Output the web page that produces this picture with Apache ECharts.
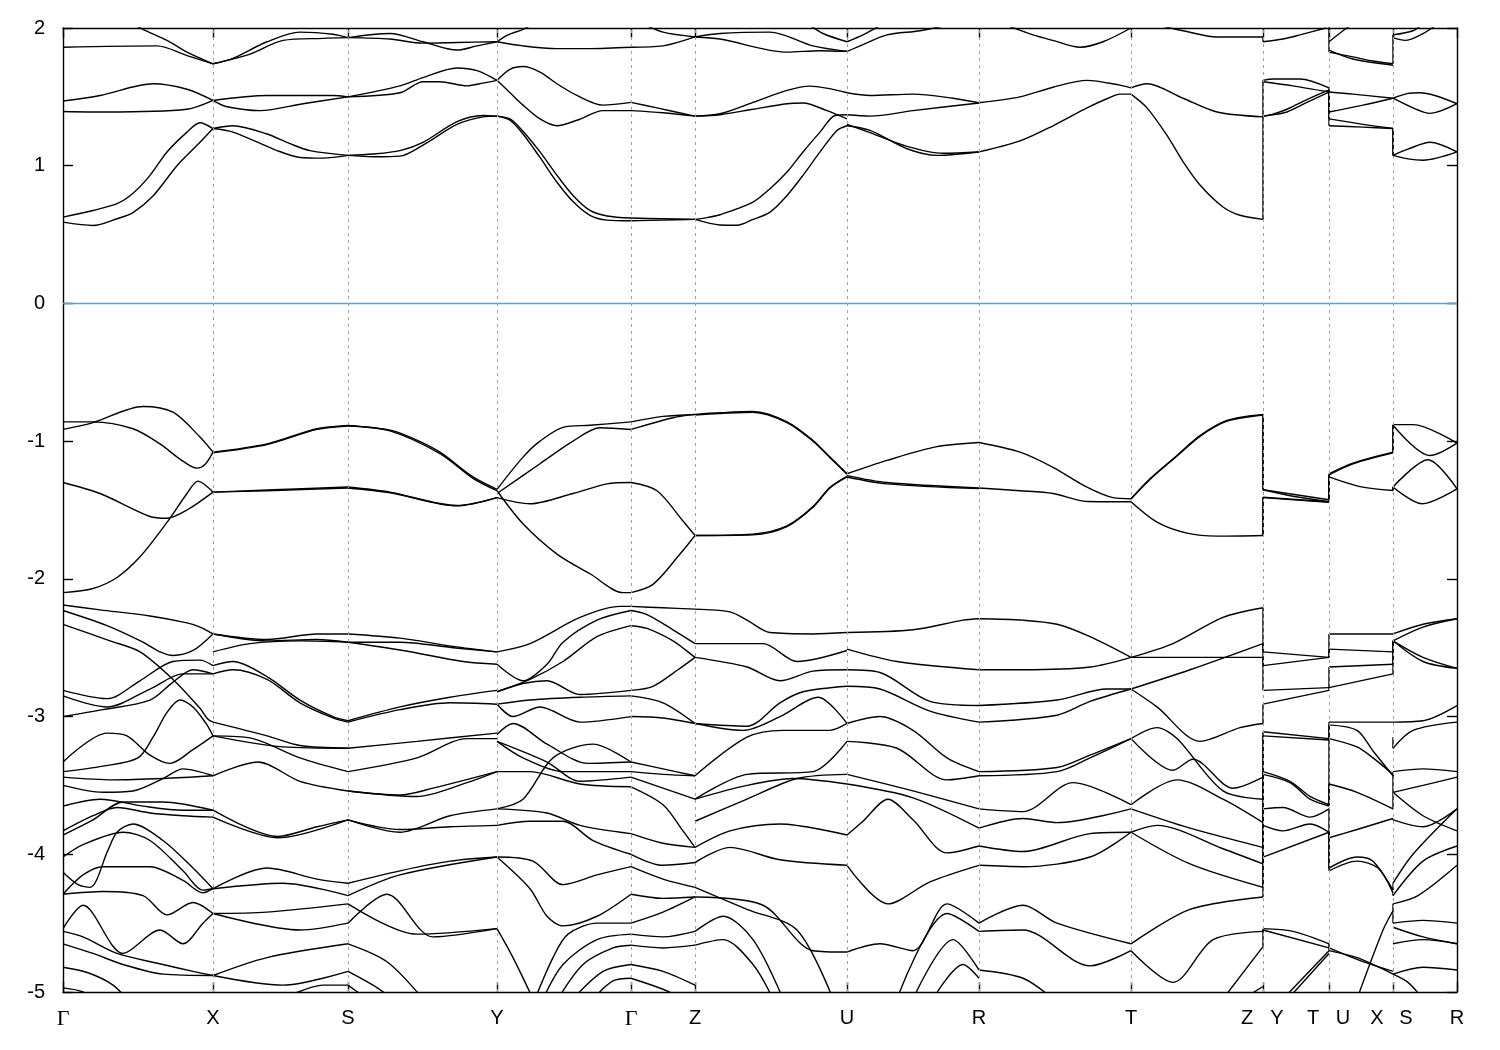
<!DOCTYPE html>
<html>
<head>
<meta charset="utf-8">
<script src="https://cdn.jsdelivr.net/npm/echarts@6/dist/echarts.min.js"></script>
<style>
html,body{margin:0;padding:0;background:#fff;}
#chart{width:1500px;height:1050px;}
</style>
</head>
<body>
<div id="chart"></div>
<script>
// High-symmetry points along the k-path (path distance units)
const kNodes = [0, 1.50, 2.85, 4.34, 5.68, 6.32, 7.84, 9.16, 10.68, 12.00, 12.66, 13.30, 13.94];
const labelK = [0, 1.50, 2.85, 4.34, 5.68, 6.32, 7.84, 9.16, 10.68, 11.84, 12.14, 12.50, 12.80, 13.14, 13.43, 13.94];
const labelText = ['Γ','X','S','Y','Γ','Z','U','R','T','Z','Y','T','U','X','S','R'];
const energyTicks = [-5, -4, -3, -2, -1, 0, 1, 2];
const fermiLevel = 0;

// Bands, segment by segment: each line is a list of [k, E(eV)]
const bands_GX = [
 [[0,0.59],[0.30,0.566],[0.54,0.615],[0.70,0.66],[0.90,0.78],[1.14,1.0],[1.37,1.17],[1.50,1.27]],
 [[0,0.627],[0.30,0.675],[0.54,0.724],[0.70,0.80],[0.87,0.93],[1.04,1.10],[1.24,1.244],[1.37,1.312],[1.50,1.27]],
 [[0,1.47],[0.37,1.51],[0.90,1.595],[1.24,1.555],[1.50,1.474]],
 [[0,1.394],[0.43,1.39],[1.24,1.41],[1.50,1.474]],
 [[0,1.86],[0.94,1.87],[1.24,1.80],[1.50,1.74]],
 [[0.65,2.05],[0.80,1.99],[1.04,1.91],[1.24,1.825],[1.50,1.74]],
 [[0,-0.86],[0.30,-0.86],[0.70,-0.91],[0.97,-1.02],[1.17,-1.13],[1.34,-1.196],[1.42,-1.17],[1.50,-1.08]],
 [[0,-0.915],[0.30,-0.865],[0.80,-0.748],[1.10,-0.79],[1.37,-0.97],[1.50,-1.08]],
 [[0,-1.30],[0.37,-1.38],[0.87,-1.547],[1.04,-1.56],[1.24,-1.50],[1.50,-1.37]],
 [[0,-2.10],[0.30,-2.07],[0.54,-1.99],[0.77,-1.84],[1.04,-1.59],[1.24,-1.38],[1.35,-1.29],[1.50,-1.37]],
 [[0,-2.19],[0.37,-2.225],[0.87,-2.27],[1.24,-2.32],[1.37,-2.35],[1.50,-2.40]],
 [[0,-2.23],[0.44,-2.34],[0.80,-2.46],[0.97,-2.53],[1.10,-2.556],[1.30,-2.52],[1.50,-2.40]],
 [[0,-2.33],[0.47,-2.45],[0.77,-2.53],[1.10,-2.73],[1.37,-2.94],[1.45,-3.02],[1.50,-3.04]],
 [[0,-2.81],[0.44,-2.87],[0.77,-2.74],[1.10,-2.60],[1.37,-2.59],[1.50,-2.63]],
 [[0,-2.85],[0.44,-2.93],[0.87,-2.80],[1.20,-2.69],[1.50,-2.69]],
 [[0,-3.00],[0.40,-2.95],[0.87,-2.88],[1.10,-2.75],[1.30,-2.66],[1.50,-2.69]],
 [[0,-3.40],[0.40,-3.36],[0.75,-3.30],[0.90,-3.15],[1.04,-2.97],[1.17,-2.88],[1.30,-2.93],[1.43,-3.05],[1.50,-3.14]],
 [[0,-3.33],[0.44,-3.12],[0.64,-3.14],[0.87,-3.28],[1.07,-3.34],[1.30,-3.24],[1.50,-3.14]],
 [[0,-3.44],[0.50,-3.46],[1.00,-3.45],[1.50,-3.43]],
 [[0,-3.50],[0.40,-3.55],[0.70,-3.54],[1.00,-3.45],[1.20,-3.38],[1.50,-3.43]],
 [[0,-3.65],[0.37,-3.60],[0.80,-3.65],[1.20,-3.68],[1.50,-3.68]],
 [[0,-3.83],[0.30,-3.72],[0.54,-3.66],[0.87,-3.70],[1.20,-3.72],[1.50,-3.73]],
 [[0,-3.86],[0.30,-3.75],[0.60,-3.62],[1.00,-3.62],[1.50,-3.68]],
 [[0,-4.02],[0.20,-3.93],[0.60,-3.84],[0.87,-3.90],[1.20,-4.12],[1.40,-4.26],[1.50,-4.25]],
 [[0,-4.13],[0.15,-4.22],[0.27,-4.24],[0.45,-3.97],[0.54,-3.84],[0.70,-3.78],[1.00,-3.90],[1.30,-4.10],[1.50,-4.25]],
 [[0,-4.29],[0.20,-4.15],[0.40,-4.09],[0.87,-4.09],[1.20,-4.19],[1.40,-4.28],[1.50,-4.25]],
 [[0,-4.29],[0.40,-4.27],[0.80,-4.30],[1.04,-4.44],[1.30,-4.35],[1.50,-4.43]],
 [[0,-4.54],[0.20,-4.37],[0.60,-4.72],[0.97,-4.55],[1.20,-4.65],[1.40,-4.50],[1.50,-4.43]],
 [[0,-4.56],[0.20,-4.60],[0.54,-4.72],[1.00,-4.80],[1.30,-4.85],[1.50,-4.88]],
 [[0,-4.65],[0.30,-4.72],[0.60,-4.80],[1.00,-4.87],[1.50,-4.88]],
 [[0,-4.82],[0.25,-4.86],[0.50,-4.95],[0.70,-5.1]],
 [[0,-4.97],[0.20,-5.0],[0.40,-5.1]]
];

const bands_XS = [
 [[1.50,1.27],[1.70,1.29],[2.04,1.23],[2.27,1.16],[2.47,1.11],[2.85,1.075]],
 [[1.50,1.27],[1.70,1.244],[2.14,1.11],[2.37,1.06],[2.60,1.055],[2.85,1.075]],
 [[1.50,1.474],[2.04,1.51],[2.70,1.51],[2.85,1.50]],
 [[1.50,1.474],[1.63,1.43],[1.97,1.40],[2.40,1.45],[2.85,1.50]],
 [[1.50,1.74],[1.70,1.78],[2.04,1.90],[2.37,1.97],[2.70,1.955],[2.85,1.93]],
 [[1.50,1.74],[1.87,1.81],[2.20,1.91],[2.60,1.925],[2.85,1.93]],
 [[1.50,-1.08],[2.04,-1.02],[2.54,-0.91],[2.85,-0.886]],
 [[1.50,-1.085],[2.04,-1.025],[2.54,-0.915],[2.85,-0.89]],
 [[1.50,-1.37],[2.04,-1.355],[2.85,-1.333]],
 [[1.50,-1.37],[2.04,-1.36],[2.85,-1.34]],
 [[1.50,-2.40],[2.04,-2.44],[2.54,-2.40],[2.85,-2.40]],
 [[1.50,-2.40],[2.04,-2.45],[2.54,-2.44],[2.85,-2.46]],
 [[1.50,-2.53],[1.87,-2.47],[2.37,-2.45],[2.85,-2.46]],
 [[1.50,-2.63],[1.70,-2.60],[2.04,-2.71],[2.37,-2.88],[2.70,-3.00],[2.85,-3.03]],
 [[1.50,-2.69],[1.70,-2.66],[2.04,-2.73],[2.37,-2.90],[2.70,-3.01],[2.85,-3.04]],
 [[1.50,-3.04],[2.04,-3.14],[2.37,-3.21],[2.85,-3.23]],
 [[1.50,-3.14],[1.90,-3.16],[2.37,-3.30],[2.85,-3.40]],
 [[1.50,-3.14],[2.20,-3.22],[2.85,-3.23]],
 [[1.50,-3.43],[1.95,-3.33],[2.37,-3.47],[2.85,-3.54]],
 [[1.50,-3.68],[2.15,-3.87],[2.54,-3.80],[2.85,-3.75]],
 [[1.50,-3.73],[2.15,-3.88],[2.85,-3.75]],
 [[1.50,-4.25],[2.04,-4.10],[2.54,-4.18],[2.85,-4.21]],
 [[1.50,-4.25],[2.20,-4.21],[2.85,-4.30]],
 [[1.50,-4.43],[2.04,-4.42],[2.85,-4.36]],
 [[1.50,-4.43],[2.37,-4.55],[2.85,-4.50]],
 [[1.50,-4.88],[2.04,-4.75],[2.85,-4.65]],
 [[1.50,-4.88],[2.20,-4.95],[2.85,-4.85]],
 [[2.20,-5.05],[2.60,-4.95],[2.85,-4.95]]
];

const bands_SY = [
 [[2.85,1.075],[3.10,1.085],[3.37,1.11],[3.60,1.17],[3.94,1.32],[4.20,1.365],[4.34,1.36]],
 [[2.85,1.075],[3.10,1.065],[3.37,1.07],[3.60,1.15],[3.94,1.30],[4.20,1.355],[4.34,1.36]],
 [[2.85,1.50],[3.37,1.58],[3.60,1.64],[3.94,1.71],[4.14,1.69],[4.34,1.62]],
 [[2.85,1.50],[3.37,1.53],[3.60,1.61],[3.77,1.61],[4.04,1.58],[4.20,1.60],[4.34,1.62]],
 [[2.85,1.93],[3.27,1.96],[3.60,1.90],[3.94,1.84],[4.14,1.87],[4.34,1.90]],
 [[2.85,1.93],[3.27,1.92],[3.60,1.89],[3.94,1.895],[4.34,1.90]],
 [[2.85,-0.886],[3.27,-0.92],[3.50,-0.98],[3.77,-1.08],[4.10,-1.26],[4.34,-1.35]],
 [[2.85,-0.89],[3.27,-0.925],[3.77,-1.09],[4.10,-1.27],[4.34,-1.36]],
 [[2.85,-1.333],[3.27,-1.37],[3.94,-1.467],[4.34,-1.41]],
 [[2.85,-1.34],[3.27,-1.375],[3.94,-1.47],[4.34,-1.41]],
 [[2.85,-2.40],[3.37,-2.43],[3.90,-2.49],[4.34,-2.53]],
 [[2.85,-2.46],[3.37,-2.46],[3.90,-2.50],[4.34,-2.53]],
 [[2.85,-2.46],[3.40,-2.52],[4.00,-2.60],[4.34,-2.62]],
 [[2.85,-3.03],[3.37,-2.93],[3.87,-2.86],[4.34,-2.81]],
 [[2.85,-3.04],[3.37,-2.95],[3.87,-2.90],[4.34,-2.91]],
 [[2.85,-3.23],[3.54,-3.18],[4.34,-3.12]],
 [[2.85,-3.40],[3.54,-3.30],[4.04,-3.16],[4.34,-3.16]],
 [[2.85,-3.54],[3.37,-3.57],[3.70,-3.52],[4.34,-3.40]],
 [[2.85,-3.54],[3.54,-3.58],[4.04,-3.48],[4.34,-3.40]],
 [[2.85,-3.75],[3.37,-3.84],[3.87,-3.72],[4.34,-3.67]],
 [[2.85,-3.75],[3.37,-3.82],[3.87,-3.80],[4.34,-3.79]],
 [[2.85,-4.21],[3.37,-4.12],[3.87,-4.05],[4.34,-4.02]],
 [[2.85,-4.30],[3.37,-4.15],[4.34,-4.02]],
 [[2.85,-4.36],[3.54,-4.58],[4.34,-4.54]],
 [[2.85,-4.50],[3.24,-4.29],[3.70,-4.60],[4.34,-4.54]],
 [[2.85,-4.65],[3.24,-4.78],[3.60,-5.05]],
 [[2.85,-4.85],[3.10,-4.95],[3.30,-5.05]],
 [[2.85,-4.95],[3.04,-5.05]]
];

const bands_YG = [
 [[4.34,1.36],[4.47,1.34],[4.60,1.25],[4.77,1.10],[4.94,0.93],[5.10,0.784],[5.27,0.675],[5.44,0.635],[5.68,0.62]],
 [[4.34,1.36],[4.47,1.33],[4.60,1.23],[4.77,1.06],[4.94,0.88],[5.10,0.74],[5.27,0.64],[5.44,0.605],[5.68,0.60]],
 [[4.34,1.62],[4.47,1.70],[4.60,1.72],[4.77,1.68],[4.94,1.595],[5.14,1.51],[5.40,1.44],[5.68,1.46]],
 [[4.34,1.62],[4.47,1.53],[4.60,1.44],[4.77,1.34],[4.94,1.29],[5.14,1.33],[5.40,1.40],[5.68,1.40]],
 [[4.34,1.90],[4.45,1.95],[4.60,1.99],[4.75,2.05]],
 [[4.34,1.90],[4.60,1.87],[4.94,1.85],[5.27,1.85],[5.68,1.86]],
 [[4.34,-1.35],[4.60,-1.116],[4.77,-1.0],[5.00,-0.90],[5.27,-0.885],[5.68,-0.86]],
 [[4.34,-1.38],[4.77,-1.164],[5.10,-1.0],[5.37,-0.903],[5.68,-0.915]],
 [[4.34,-1.41],[4.67,-1.455],[5.10,-1.38],[5.44,-1.31],[5.68,-1.30]],
 [[4.34,-1.36],[4.60,-1.60],[4.94,-1.82],[5.27,-1.963],[5.60,-2.10],[5.68,-2.10]],
 [[4.34,-2.53],[4.67,-2.47],[5.17,-2.28],[5.57,-2.20],[5.68,-2.20]],
 [[4.34,-2.62],[4.60,-2.74],[4.84,-2.62],[5.00,-2.46],[5.34,-2.30],[5.68,-2.23]],
 [[4.34,-2.82],[4.67,-2.73],[5.00,-2.60],[5.34,-2.42],[5.68,-2.34]],
 [[4.34,-2.91],[4.50,-3.00],[4.77,-2.93],[5.17,-3.04],[5.68,-3.00]],
 [[4.34,-2.82],[4.60,-2.76],[4.84,-2.74],[5.17,-2.84],[5.68,-2.81]],
 [[4.34,-2.91],[4.67,-2.88],[5.17,-2.86],[5.68,-2.85]],
 [[4.34,-3.13],[4.50,-3.05],[4.84,-3.20],[5.25,-3.34],[5.68,-3.33]],
 [[4.34,-3.18],[4.60,-3.30],[5.00,-3.40],[5.68,-3.40]],
 [[4.34,-3.18],[4.84,-3.33],[5.17,-3.47],[5.68,-3.44]],
 [[4.34,-3.40],[4.67,-3.40],[5.17,-3.49],[5.68,-3.51]],
 [[4.34,-3.67],[4.60,-3.60],[4.90,-3.30],[5.30,-3.20],[5.68,-3.33]],
 [[4.34,-3.67],[4.84,-3.70],[5.17,-3.79],[5.68,-3.85]],
 [[4.34,-3.79],[4.67,-3.76],[5.00,-3.76],[5.30,-3.90],[5.68,-4.00]],
 [[4.34,-4.02],[4.70,-4.05],[5.00,-4.22],[5.34,-4.15],[5.68,-4.09]],
 [[4.34,-4.02],[4.67,-4.25],[4.84,-4.45],[5.00,-4.52],[5.34,-4.45],[5.68,-4.29]],
 [[4.34,-4.54],[4.50,-4.75],[4.70,-5.05]],
 [[4.72,-5.05],[4.90,-4.75],[5.05,-4.58],[5.34,-4.50],[5.68,-4.50]],
 [[4.80,-5.05],[5.00,-4.80],[5.34,-4.62],[5.68,-4.58]],
 [[4.95,-5.05],[5.20,-4.80],[5.50,-4.68],[5.68,-4.66]],
 [[5.10,-5.05],[5.40,-4.85],[5.68,-4.80]],
 [[5.30,-5.05],[5.50,-4.92],[5.68,-4.90]]
];

const bands_GZ = [
 [[5.68,0.62],[6.00,0.615],[6.32,0.61]],
 [[5.68,0.60],[6.00,0.605],[6.32,0.61]],
 [[5.68,1.46],[5.94,1.42],[6.32,1.36]],
 [[5.68,1.40],[6.00,1.385],[6.32,1.36]],
 [[5.68,1.86],[6.00,1.87],[6.32,1.935]],
 [[5.80,2.03],[6.00,1.97],[6.32,1.935]],
 [[5.68,-0.86],[6.00,-0.82],[6.32,-0.806]],
 [[5.68,-0.915],[6.10,-0.83],[6.32,-0.806]],
 [[5.68,-1.30],[5.94,-1.36],[6.20,-1.58],[6.32,-1.685]],
 [[5.68,-2.10],[5.90,-2.04],[6.17,-1.82],[6.32,-1.685]],
 [[5.68,-2.20],[6.00,-2.21],[6.32,-2.22]],
 [[5.68,-2.23],[5.84,-2.26],[6.10,-2.37],[6.32,-2.47]],
 [[5.68,-2.34],[5.84,-2.36],[6.10,-2.45],[6.25,-2.53],[6.32,-2.57]],
 [[5.68,-2.81],[5.90,-2.78],[6.15,-2.66],[6.32,-2.57]],
 [[5.68,-3.00],[6.00,-3.01],[6.32,-3.05]],
 [[5.68,-2.85],[6.00,-2.90],[6.32,-3.05]],
 [[5.68,-3.33],[6.00,-3.38],[6.32,-3.43]],
 [[5.68,-3.40],[6.00,-3.42],[6.32,-3.43]],
 [[5.68,-3.44],[6.00,-3.52],[6.32,-3.60]],
 [[5.68,-3.51],[6.00,-3.64],[6.20,-3.83],[6.32,-3.95]],
 [[5.68,-3.85],[6.00,-3.92],[6.32,-3.95]],
 [[5.68,-4.00],[6.00,-4.08],[6.32,-4.06]],
 [[5.68,-4.09],[6.00,-4.18],[6.32,-4.24]],
 [[5.68,-4.29],[6.00,-4.32],[6.32,-4.31]],
 [[5.68,-4.50],[6.00,-4.42],[6.32,-4.31]],
 [[5.68,-4.58],[6.00,-4.60],[6.32,-4.56]],
 [[5.68,-4.66],[6.00,-4.68],[6.32,-4.66]],
 [[5.68,-4.80],[6.00,-4.85],[6.32,-4.95]],
 [[5.68,-4.90],[6.00,-4.98],[6.20,-5.05]]
];

const bands_ZU = [
 [[6.32,0.61],[6.57,0.57],[6.74,0.568],[6.90,0.61],[7.07,0.663],[7.24,0.784],[7.40,0.93],[7.57,1.10],[7.74,1.256],[7.84,1.29]],
 [[6.32,0.61],[6.45,0.625],[6.57,0.644],[6.90,0.736],[7.07,0.833],[7.24,0.954],[7.40,1.10],[7.57,1.244],[7.72,1.365],[7.84,1.37]],
 [[6.32,1.36],[6.57,1.377],[6.90,1.46],[7.24,1.547],[7.47,1.578],[7.84,1.53]],
 [[6.32,1.36],[6.57,1.37],[6.90,1.41],[7.24,1.45],[7.40,1.455],[7.64,1.40],[7.84,1.34]],
 [[6.32,1.935],[6.57,1.96],[7.07,1.97],[7.50,1.87],[7.84,1.83]],
 [[6.32,1.935],[6.57,1.92],[7.24,1.825],[7.57,1.835],[7.84,1.83]],
 [[7.45,2.03],[7.60,1.96],[7.84,1.90]],
 [[6.32,-0.806],[6.57,-0.794],[6.90,-0.785],[7.24,-0.86],[7.50,-0.995],[7.67,-1.116],[7.84,-1.237]],
 [[6.32,-0.81],[6.57,-0.80],[6.90,-0.79],[7.24,-0.865],[7.50,-1.0],[7.67,-1.12],[7.84,-1.24]],
 [[6.32,-1.685],[6.90,-1.68],[7.24,-1.62],[7.50,-1.48],[7.67,-1.34],[7.84,-1.26]],
 [[6.32,-1.685],[6.90,-1.675],[7.24,-1.615],[7.50,-1.475],[7.67,-1.335],[7.84,-1.255]],
 [[6.32,-2.22],[6.67,-2.24],[6.84,-2.30],[7.07,-2.39],[7.50,-2.40],[7.84,-2.39]],
 [[6.32,-2.47],[7.00,-2.47],[7.34,-2.60],[7.84,-2.52]],
 [[6.32,-2.57],[6.84,-2.64],[7.17,-2.74],[7.50,-2.67],[7.84,-2.66]],
 [[6.32,-3.05],[6.84,-3.07],[7.17,-2.90],[7.40,-2.82],[7.84,-2.78]],
 [[6.32,-3.05],[6.80,-3.10],[7.17,-3.00],[7.55,-2.86],[7.84,-3.05]],
 [[6.32,-3.43],[6.84,-3.15],[7.20,-3.10],[7.67,-3.10],[7.84,-3.05]],
 [[6.32,-3.60],[6.84,-3.42],[7.50,-3.40],[7.84,-3.18]],
 [[6.32,-3.60],[6.84,-3.50],[7.30,-3.45],[7.84,-3.49]],
 [[6.32,-3.76],[6.84,-3.60],[7.34,-3.45],[7.84,-3.42]],
 [[6.32,-3.95],[6.67,-3.83],[7.17,-3.78],[7.84,-3.86]],
 [[6.32,-4.06],[6.67,-3.95],[7.17,-4.04],[7.84,-4.08]],
 [[6.32,-4.31],[7.00,-4.37],[7.50,-4.70],[7.84,-4.71]],
 [[6.32,-4.24],[6.84,-4.40],[7.34,-4.55],[7.70,-5.05]],
 [[6.32,-4.56],[6.60,-4.45],[6.90,-4.62],[7.20,-5.05]],
 [[6.32,-4.66],[6.60,-4.62],[6.90,-4.80],[7.10,-5.05]]
];

const bands_UR = [
 [[7.84,1.29],[8.07,1.256],[8.44,1.123],[8.74,1.075],[9.16,1.10]],
 [[7.84,1.30],[8.07,1.24],[8.44,1.14],[8.80,1.09],[9.16,1.10]],
 [[7.84,1.37],[8.07,1.36],[8.50,1.40],[9.16,1.455]],
 [[7.84,1.53],[8.07,1.51],[8.50,1.52],[8.90,1.49],[9.16,1.457]],
 [[7.84,1.83],[8.00,1.88],[8.24,1.95],[8.57,1.98],[8.90,2.03]],
 [[7.84,1.90],[8.00,1.95],[8.20,2.03]],
 [[7.84,-1.237],[8.24,-1.14],[8.74,-1.04],[9.16,-1.01]],
 [[7.84,-1.25],[8.24,-1.30],[9.16,-1.34]],
 [[7.84,-1.26],[8.24,-1.31],[9.16,-1.345]],
 [[7.84,-2.39],[8.50,-2.37],[9.00,-2.30],[9.16,-2.29]],
 [[7.84,-2.51],[8.34,-2.60],[9.16,-2.66]],
 [[7.84,-2.66],[8.17,-2.68],[8.67,-2.89],[9.16,-2.92]],
 [[7.84,-2.78],[8.17,-2.80],[8.67,-2.96],[9.16,-3.04]],
 [[7.84,-3.05],[8.17,-3.00],[8.50,-3.10],[8.84,-3.30],[9.16,-3.40]],
 [[7.84,-3.18],[8.34,-3.23],[8.84,-3.46],[9.16,-3.43]],
 [[7.84,-3.42],[8.50,-3.54],[9.16,-3.67]],
 [[7.84,-3.49],[8.50,-3.59],[9.16,-3.81]],
 [[7.84,-3.86],[8.00,-3.76],[8.25,-3.60],[8.50,-3.75],[8.84,-3.99],[9.16,-3.94]],
 [[7.84,-4.08],[8.25,-4.36],[8.67,-4.20],[9.16,-4.08]],
 [[7.84,-4.71],[8.17,-4.65],[8.50,-4.70],[8.84,-4.36],[9.16,-4.50]],
 [[8.34,-5.05],[8.84,-4.43],[9.16,-4.56]],
 [[8.50,-5.05],[8.90,-4.62],[9.16,-4.84]],
 [[8.70,-5.05],[9.00,-4.80],[9.16,-4.90]]
];

const bands_RT = [
 [[9.16,1.10],[9.57,1.18],[9.90,1.29],[10.24,1.42],[10.45,1.49],[10.57,1.52],[10.68,1.52]],
 [[9.16,1.457],[9.57,1.50],[9.90,1.57],[10.24,1.62],[10.57,1.585],[10.68,1.565]],
 [[9.40,2.03],[9.70,1.95],[9.90,1.91],[10.17,1.86],[10.40,1.90],[10.68,2.0]],
 [[9.16,-1.01],[9.57,-1.08],[9.90,-1.19],[10.24,-1.334],[10.50,-1.41],[10.68,-1.418]],
 [[9.16,-1.34],[9.57,-1.36],[9.90,-1.38],[10.24,-1.438],[10.68,-1.44]],
 [[9.16,-2.29],[9.60,-2.30],[9.94,-2.33],[10.27,-2.42],[10.68,-2.57]],
 [[9.16,-2.66],[9.60,-2.66],[10.27,-2.64],[10.68,-2.57]],
 [[9.16,-2.92],[9.94,-2.88],[10.44,-2.80],[10.68,-2.80]],
 [[9.16,-3.04],[9.94,-2.99],[10.27,-2.89],[10.68,-2.80]],
 [[9.16,-3.40],[9.94,-3.37],[10.27,-3.28],[10.68,-3.16]],
 [[9.16,-3.43],[9.94,-3.40],[10.27,-3.30],[10.68,-3.16]],
 [[9.16,-3.67],[9.60,-3.69],[10.10,-3.48],[10.68,-3.64]],
 [[9.16,-3.81],[9.60,-3.74],[9.94,-3.77],[10.68,-3.67]],
 [[9.16,-3.94],[9.60,-3.98],[10.27,-3.85],[10.68,-3.84]],
 [[9.16,-4.08],[9.60,-4.09],[10.27,-4.02],[10.68,-3.84]],
 [[9.16,-4.50],[9.60,-4.37],[9.94,-4.50],[10.68,-4.65]],
 [[9.16,-4.56],[9.60,-4.55],[10.27,-4.81],[10.68,-4.70]],
 [[9.16,-4.84],[9.60,-4.90],[9.90,-5.05]]
];

const bands_TZ = [
 [[10.68,1.52],[10.84,1.42],[11.04,1.22],[11.20,1.03],[11.37,0.86],[11.60,0.70],[11.77,0.64],[12.00,0.61]],
 [[10.68,1.565],[10.84,1.595],[11.20,1.49],[11.54,1.39],[12.00,1.355]],
 [[10.90,2.03],[11.20,1.98],[11.54,1.935],[12.00,1.935]],
 [[10.68,-1.418],[10.87,-1.273],[11.14,-1.104],[11.37,-0.96],[11.64,-0.85],[12.00,-0.806]],
 [[10.68,-1.42],[10.87,-1.278],[11.14,-1.108],[11.37,-0.965],[11.64,-0.855],[12.00,-0.81]],
 [[10.68,-1.44],[10.94,-1.588],[11.24,-1.668],[11.54,-1.69],[12.00,-1.685]],
 [[10.68,-2.57],[11.10,-2.47],[11.60,-2.28],[12.00,-2.21]],
 [[10.68,-2.57],[12.00,-2.57]],
 [[10.68,-2.80],[11.27,-2.66],[12.00,-2.47]],
 [[10.68,-2.80],[10.94,-2.93],[11.37,-3.18],[11.77,-3.08],[12.00,-3.05]],
 [[10.68,-3.16],[10.94,-3.08],[11.14,-3.16],[11.60,-3.54],[12.00,-3.60]],
 [[10.68,-3.16],[11.10,-3.39],[11.30,-3.31],[11.70,-3.52],[12.00,-3.44]],
 [[10.68,-3.64],[11.14,-3.46],[11.60,-3.60],[12.00,-3.77]],
 [[10.68,-3.67],[11.27,-3.81],[12.00,-3.95]],
 [[10.68,-3.84],[10.94,-3.79],[11.60,-3.96],[12.00,-4.07]],
 [[10.68,-3.84],[11.27,-4.07],[12.00,-4.24]],
 [[10.68,-4.65],[11.27,-4.40],[12.00,-4.31]],
 [[10.68,-4.70],[11.10,-4.93],[11.50,-4.62],[12.00,-4.56]],
 [[11.60,-5.05],[12.00,-4.67]],
 [[11.80,-5.05],[12.00,-4.96]]
];

const bands_YT = [
 [[12.00,0.61],[12.00,1.36],[12.10,1.37],[12.24,1.39],[12.44,1.46],[12.66,1.535]],
 [[12.00,1.355],[12.00,1.36],[12.10,1.375],[12.24,1.41],[12.44,1.48],[12.66,1.55]],
 [[12.00,1.355],[12.00,1.62],[12.10,1.63],[12.37,1.63],[12.66,1.565]],
 [[12.00,1.61],[12.30,1.58],[12.66,1.535]],
 [[12.00,1.935],[12.00,1.90],[12.20,1.92],[12.37,1.95],[12.63,2.0]],
 [[12.00,-0.806],[12.00,-1.353],[12.66,-1.426]],
 [[12.00,-0.806],[12.00,-1.353],[12.30,-1.40],[12.66,-1.44]],
 [[12.00,-1.685],[12.00,-1.407],[12.66,-1.44]],
 [[12.00,-1.685],[12.00,-1.41],[12.66,-1.445]],
 [[12.00,-2.21],[12.00,-2.53],[12.66,-2.57]],
 [[12.00,-2.47],[12.00,-2.63],[12.66,-2.57]],
 [[12.00,-2.57],[12.00,-2.81],[12.66,-2.79]],
 [[12.00,-3.05],[12.00,-2.91],[12.66,-2.81]],
 [[12.00,-3.44],[12.00,-3.11],[12.66,-3.16]],
 [[12.00,-3.60],[12.00,-3.14],[12.66,-3.17]],
 [[12.00,-3.77],[12.00,-3.40],[12.27,-3.47],[12.47,-3.58],[12.66,-3.64]],
 [[12.00,-3.95],[12.00,-3.42],[12.27,-3.48],[12.47,-3.60],[12.66,-3.65]],
 [[12.00,-4.07],[12.00,-3.67],[12.20,-3.66],[12.47,-3.73],[12.66,-3.67]],
 [[12.00,-4.24],[12.00,-3.79],[12.20,-3.83],[12.47,-3.78],[12.66,-3.84]],
 [[12.00,-4.31],[12.00,-4.02],[12.66,-3.84]],
 [[12.00,-4.56],[12.00,-4.54],[12.30,-4.56],[12.66,-4.65]],
 [[12.00,-4.67],[12.00,-4.55],[12.66,-4.68]],
 [[12.20,-5.05],[12.66,-4.70]],
 [[12.25,-5.05],[12.66,-4.72]]
];

const bands_UX = [
 [[12.66,1.535],[12.90,1.52],[13.30,1.49]],
 [[12.66,1.55],[12.66,1.39],[13.00,1.44],[13.30,1.49]],
 [[12.66,1.565],[12.66,1.34],[13.00,1.30],[13.30,1.27]],
 [[12.66,1.535],[12.66,1.29],[13.00,1.28],[13.30,1.27]],
 [[12.66,2.03],[12.66,1.90],[12.80,1.98],[12.90,2.03]],
 [[12.66,1.90],[12.66,1.825],[12.90,1.79],[13.10,1.76],[13.30,1.74]],
 [[12.66,1.84],[12.90,1.775],[13.30,1.73]],
 [[12.66,-1.43],[12.66,-1.237],[12.90,-1.16],[13.30,-1.08]],
 [[12.66,-1.44],[12.66,-1.245],[12.90,-1.165],[13.30,-1.085]],
 [[12.66,-1.44],[12.66,-1.26],[12.97,-1.33],[13.30,-1.358]],
 [[12.66,-2.57],[12.66,-2.40],[13.30,-2.40]],
 [[12.66,-2.57],[12.66,-2.51],[13.30,-2.53]],
 [[12.66,-2.79],[12.66,-2.64],[13.30,-2.62]],
 [[12.66,-2.81],[12.66,-2.79],[13.30,-2.69]],
 [[12.66,-3.16],[12.66,-3.04],[13.30,-3.04]],
 [[12.66,-3.17],[12.66,-3.06],[12.94,-3.10],[13.10,-3.25],[13.30,-3.43]],
 [[12.66,-3.64],[12.66,-3.16],[12.94,-3.22],[13.10,-3.30],[13.30,-3.42]],
 [[12.66,-3.65],[12.66,-3.49],[12.94,-3.55],[13.30,-3.67]],
 [[12.66,-3.67],[12.66,-3.88],[12.94,-3.82],[13.30,-3.74]],
 [[12.66,-3.84],[12.66,-4.10],[12.94,-4.02],[13.10,-4.05],[13.30,-4.26]],
 [[12.66,-3.84],[12.66,-4.12],[12.94,-4.05],[13.15,-4.10],[13.30,-4.28]],
 [[12.66,-4.65],[12.66,-4.70],[12.94,-4.75],[13.10,-4.80],[13.30,-4.87]],
 [[12.66,-4.68],[13.00,-4.78],[13.30,-4.85]],
 [[12.94,-5.05],[13.20,-4.55],[13.30,-4.41]]
];

const bands_SR = [
 [[13.30,1.27],[13.30,1.075],[13.45,1.12],[13.67,1.17],[13.94,1.10]],
 [[13.30,1.27],[13.30,1.075],[13.45,1.05],[13.60,1.04],[13.94,1.10]],
 [[13.30,1.49],[13.45,1.525],[13.57,1.53],[13.94,1.45]],
 [[13.30,1.49],[13.50,1.42],[13.67,1.38],[13.94,1.45]],
 [[13.30,1.74],[13.30,1.95],[13.50,1.98],[13.60,2.03]],
 [[13.30,1.93],[13.42,1.91],[13.60,1.96],[13.75,2.03]],
 [[13.30,-1.08],[13.30,-0.88],[13.50,-0.88],[13.94,-1.014]],
 [[13.30,-1.085],[13.30,-0.885],[13.67,-1.104],[13.94,-1.014]],
 [[13.30,-1.358],[13.30,-1.333],[13.65,-1.135],[13.94,-1.346]],
 [[13.30,-1.358],[13.30,-1.333],[13.59,-1.455],[13.94,-1.346]],
 [[13.30,-2.40],[13.60,-2.33],[13.94,-2.29]],
 [[13.30,-2.53],[13.30,-2.45],[13.60,-2.35],[13.94,-2.29]],
 [[13.30,-2.62],[13.30,-2.45],[13.60,-2.57],[13.94,-2.65]],
 [[13.30,-2.69],[13.30,-2.45],[13.60,-2.60],[13.94,-2.65]],
 [[13.30,-3.04],[13.60,-3.03],[13.94,-2.92]],
 [[13.30,-3.15],[13.30,-3.23],[13.50,-3.10],[13.94,-3.04]],
 [[13.30,-3.43],[13.30,-3.40],[13.60,-3.38],[13.94,-3.40]],
 [[13.30,-3.42],[13.30,-3.55],[13.60,-3.50],[13.94,-3.44]],
 [[13.30,-3.67],[13.30,-3.55],[13.60,-3.72],[13.94,-3.83]],
 [[13.30,-3.74],[13.30,-3.75],[13.60,-3.80],[13.94,-3.67]],
 [[13.30,-4.26],[13.30,-4.21],[13.50,-4.00],[13.94,-3.67]],
 [[13.30,-4.28],[13.30,-4.30],[13.60,-4.05],[13.94,-3.94]],
 [[13.30,-4.41],[13.30,-4.36],[13.55,-4.30],[13.94,-4.08]],
 [[13.30,-4.41],[13.30,-4.50],[13.60,-4.48],[13.94,-4.50]],
 [[13.30,-4.53],[13.60,-4.60],[13.94,-4.65]],
 [[13.30,-4.65],[13.60,-4.62],[13.94,-4.65]],
 [[13.30,-4.87],[13.60,-4.82],[13.94,-4.84]],
 [[13.30,-4.87],[13.45,-4.93],[13.60,-5.05]]
];

const allSegments = [bands_GX, bands_XS, bands_SY, bands_YG, bands_GZ, bands_ZU,
  bands_UR, bands_RT, bands_TZ, bands_YT, bands_UX, bands_SR];

const lineStyle = { color: '#000000', width: 1.4 };
const series = [];

// Fermi level line plus dashed guides at the high-symmetry points
series.push({
  type: 'line', silent: true, symbol: 'none', z: 1,
  data: [[kNodes[0], fermiLevel], [kNodes[kNodes.length - 1], fermiLevel]],
  lineStyle: { color: '#4aa8e0', width: 1.5 },
  markLine: {
    silent: true, symbol: ['none', 'none'], label: { show: false },
    lineStyle: { color: '#a0a0a0', type: [3, 4], width: 1 },
    data: kNodes.slice(1, -1).map(k => ({ xAxis: k }))
  }
});

allSegments.forEach(seg => {
  seg.forEach(line => {
    let pts = line;
    if (pts.length > 1 && pts[0][0] === pts[1][0]) {
      series.push({ type: 'line', silent: true, symbol: 'none', z: 3, smooth: false,
        data: [pts[0], pts[1]], lineStyle: lineStyle });
      pts = pts.slice(1);
    }
    if (pts.length > 1) {
      series.push({ type: 'line', silent: true, symbol: 'none', z: 3, smooth: 0.3,
        data: pts, lineStyle: lineStyle });
    }
  });
});

function kLabel(v) {
  const i = labelK.findIndex(p => Math.abs(p - v) < 1e-6);
  if (i < 0) return '';
  const t = labelText[i];
  return t === 'Γ' ? '{g|Γ}' : t;
}

const axisLineStyle = { show: true, onZero: false, lineStyle: { color: '#000', width: 1.4 } };
const chart = echarts.init(document.getElementById('chart'), null, { renderer: 'canvas' });
chart.setOption({
  animation: false,
  backgroundColor: '#ffffff',
  grid: { left: 63, right: 43, top: 28, bottom: 58, containLabel: false },
  xAxis: [
    {
      type: 'value', position: 'bottom', min: kNodes[0], max: kNodes[kNodes.length - 1],
      axisLine: axisLineStyle,
      axisTick: { show: true, inside: true, length: 10, customValues: kNodes,
        lineStyle: { color: '#000', width: 1.4 } },
      axisLabel: {
        show: true, customValues: labelK, formatter: kLabel, margin: 16,
        color: '#000', fontSize: 20, fontFamily: 'Liberation Sans, Arial, sans-serif',
        rich: { g: { fontFamily: 'Liberation Serif, Times New Roman, serif', fontSize: 22, color: '#000' } }
      },
      splitLine: { show: false }
    },
    {
      type: 'value', position: 'top', min: kNodes[0], max: kNodes[kNodes.length - 1],
      axisLine: axisLineStyle,
      axisTick: { show: true, inside: true, length: 10, customValues: kNodes,
        lineStyle: { color: '#000', width: 1.4 } },
      axisLabel: { show: false },
      splitLine: { show: false }
    }
  ],
  yAxis: [
    {
      type: 'value', position: 'left', min: energyTicks[0], max: energyTicks[energyTicks.length - 1], interval: 1,
      axisLine: axisLineStyle,
      axisTick: { show: true, inside: true, length: 10, lineStyle: { color: '#000', width: 1.4 } },
      axisLabel: { show: true, margin: 18, color: '#000', fontSize: 20,
        fontFamily: 'Liberation Sans, Arial, sans-serif' },
      splitLine: { show: false }
    },
    {
      type: 'value', position: 'right', min: energyTicks[0], max: energyTicks[energyTicks.length - 1], interval: 1,
      axisLine: axisLineStyle,
      axisTick: { show: true, inside: true, length: 10, lineStyle: { color: '#000', width: 1.4 } },
      axisLabel: { show: false },
      splitLine: { show: false }
    }
  ],
  series: series
});
</script>
</body>
</html>
